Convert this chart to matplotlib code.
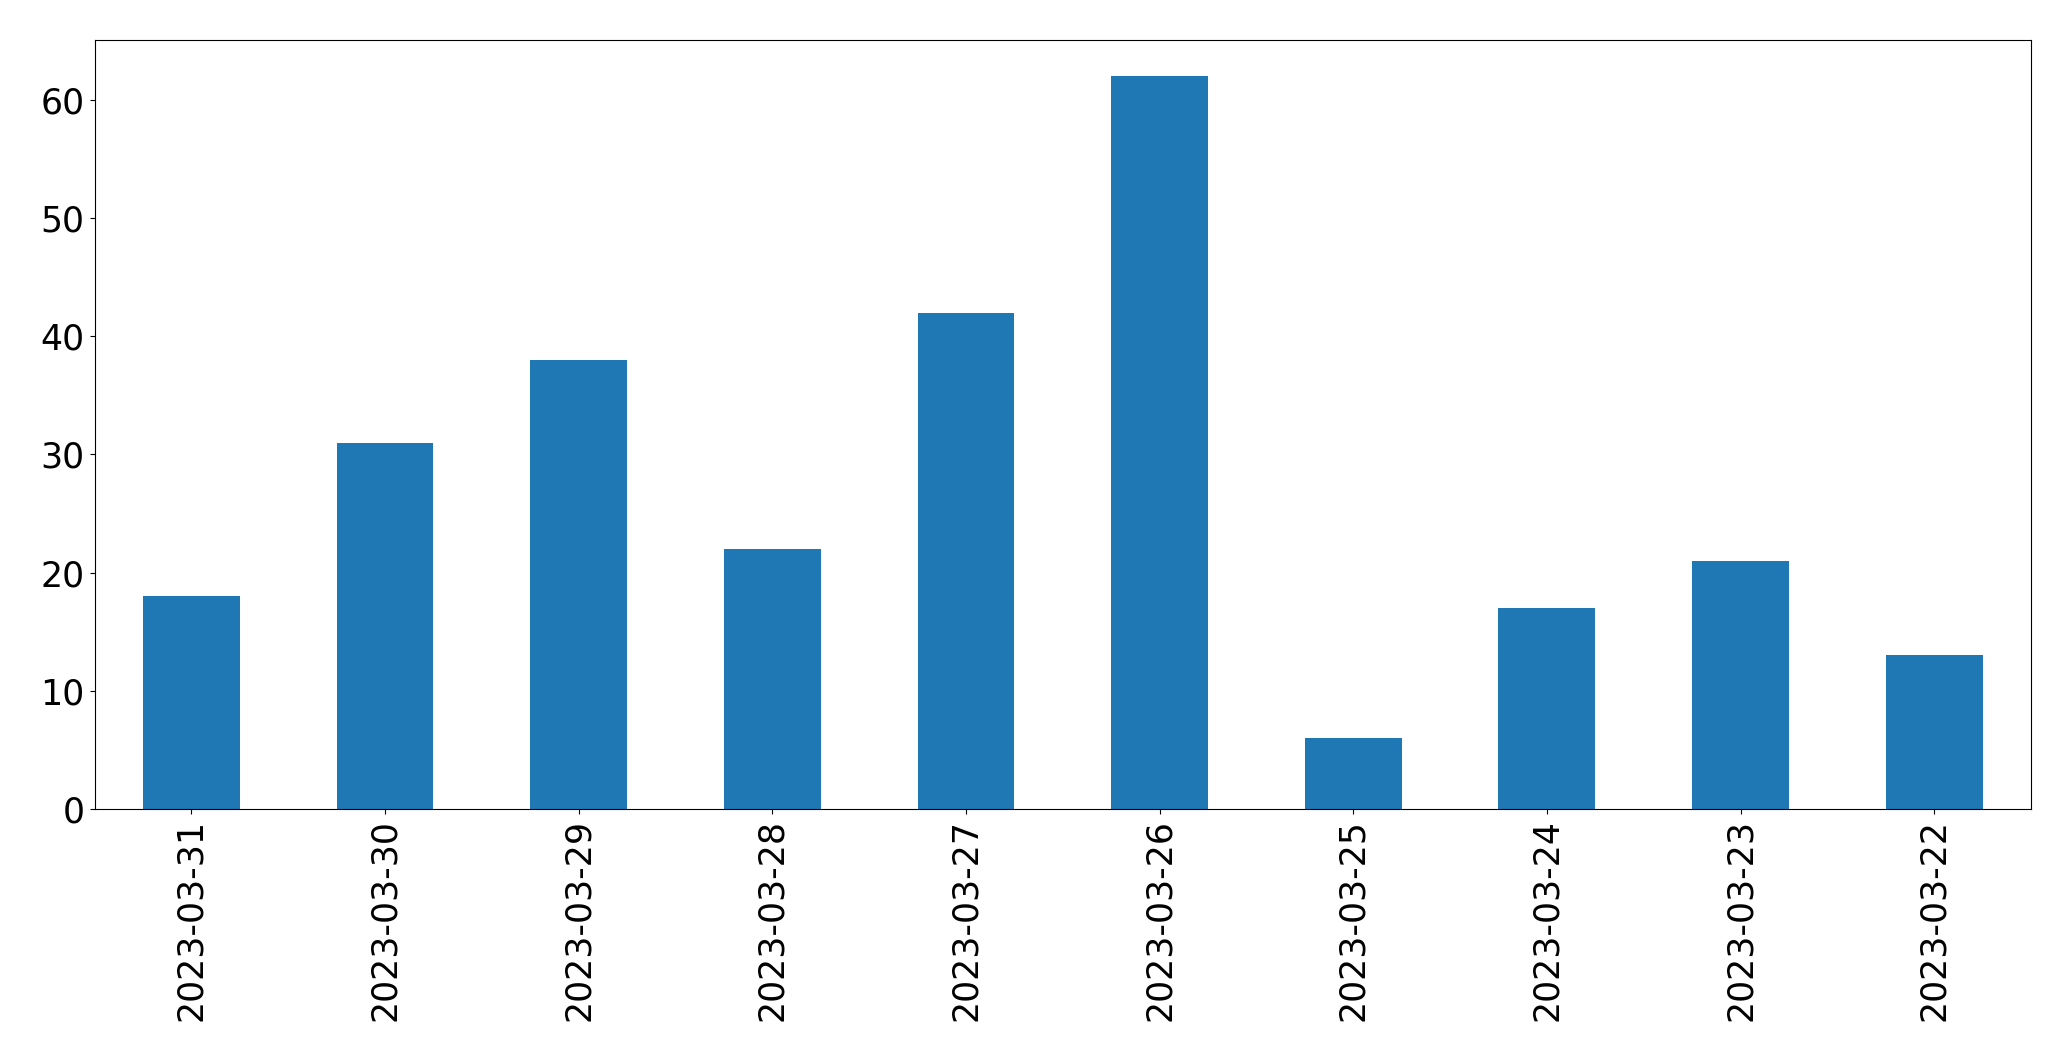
import matplotlib
matplotlib.use("Agg")
import matplotlib.pyplot as plt
import pandas as pd

dates = ["2023-03-31", "2023-03-30", "2023-03-29", "2023-03-28", "2023-03-27",
         "2023-03-26", "2023-03-25", "2023-03-24", "2023-03-23", "2023-03-22"]
counts = [18, 31, 38, 22, 42, 62, 6, 17, 21, 13]

series = pd.Series(counts, index=dates)

fig = plt.figure(figsize=(20.71, 10.61), dpi=100)
ax = fig.add_axes([94.5 / 2071, 1 - 809 / 1061, (2031 - 94.5) / 2071, (809 - 39.5) / 1061])
series.plot(kind="bar", ax=ax, color="#1f77b4")
ax.tick_params(axis="both", labelsize=25)

fig.savefig("out.png", dpi=100)
